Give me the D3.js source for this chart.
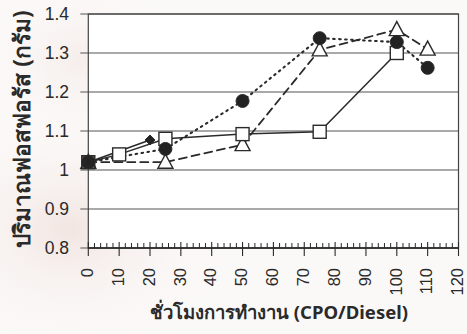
<!DOCTYPE html>
<html>
<head>
<meta charset="utf-8">
<script src="https://cdn.jsdelivr.net/npm/d3@7/dist/d3.min.js"></script>
<style>
  html, body { margin: 0; padding: 0; background: #fbf9f8; }
  svg { display: block; }
</style>
</head>
<body>
<svg id="chart" width="467" height="334"></svg>
<script>
// Operating hours (CPO/Diesel) and phosphorus amount (g) per series
const hoursCircle   = [0, 25, 50, 75, 100, 110];
const valuesCircle  = [1.02, 1.054, 1.177, 1.338, 1.328, 1.262];
const hoursTriangle = [0, 25, 50, 75, 100, 110];
const valuesTriangle= [1.02, 1.02, 1.065, 1.308, 1.36, 1.31];
const hoursSquare   = [0, 10, 25, 50, 75, 100];
const valuesSquare  = [1.02, 1.04, 1.08, 1.092, 1.098, 1.30];
const hoursDiamond  = [0, 20];
const valuesDiamond = [1.02, 1.077];

const xTicks = [0, 10, 20, 30, 40, 50, 60, 70, 80, 90, 100, 110, 120];
const yTicks = [0.8, 0.9, 1.0, 1.1, 1.2, 1.3, 1.4];
const yTickLabels = ["0.8", "0.9", "1", "1.1", "1.2", "1.3", "1.4"];
const xTitle = "ชั่วโมงการทำงาน (CPO/Diesel)";
const yTitle = "ปริมาณฟอสฟอรัส (กรัม)";

const svg = d3.select("#chart");
const ink = "#2a2a2a";
const numFont = "'Liberation Sans', Arial, sans-serif";
const titleFont = "'Noto Sans', 'Liberation Sans', sans-serif";

// Faint tinted wash behind the drawing
const defs = svg.append("defs");
const g1 = defs.append("radialGradient").attr("id", "wash1");
g1.append("stop").attr("offset", "0%").attr("stop-color", "#f1e3df").attr("stop-opacity", 0.9);
g1.append("stop").attr("offset", "100%").attr("stop-color", "#fbf9f8").attr("stop-opacity", 0);
svg.append("ellipse").attr("cx", 70).attr("cy", 230).attr("rx", 170).attr("ry", 130).attr("fill", "url(#wash1)");
svg.append("ellipse").attr("cx", 80).attr("cy", 60).attr("rx", 110).attr("ry", 90).attr("fill", "url(#wash1)").attr("opacity", 0.6);

const x = d3.scaleLinear().domain([0, 120]).range([88.3, 458.5]);
const y = d3.scaleLinear().domain([0.8, 1.4]).range([248, 14]);

// Plot area
svg.append("rect")
  .attr("x", x(0)).attr("y", y(1.4))
  .attr("width", x(120) - x(0)).attr("height", y(0.8) - y(1.4))
  .attr("fill", "#ffffff");

// Horizontal gridlines (extending slightly left of the axis as ticks)
svg.append("g").selectAll("line").data(yTicks).join("line")
  .attr("x1", x(0) - 8).attr("x2", x(120))
  .attr("y1", d => y(d)).attr("y2", d => y(d))
  .attr("stroke", "#555").attr("stroke-width", 1.1);

// Plot border
svg.append("rect")
  .attr("x", x(0)).attr("y", y(1.4))
  .attr("width", x(120) - x(0)).attr("height", y(0.8) - y(1.4))
  .attr("fill", "none").attr("stroke", "#444").attr("stroke-width", 1.2);

// Y tick labels
svg.append("g").selectAll("text").data(yTicks).join("text")
  .attr("x", 69).attr("y", d => y(d))
  .attr("dy", "0.35em")
  .attr("text-anchor", "end")
  .attr("font-family", numFont)
  .attr("font-size", 17.5)
  .attr("fill", ink)
  .text((d, i) => yTickLabels[i]);

// X axis: minor ticks every 2 hours pointing up, major ticks crossing the axis
const minor = d3.range(0, 121, 2).filter(v => v % 10 !== 0);
svg.append("g").selectAll("line").data(minor).join("line")
  .attr("x1", d => x(d)).attr("x2", d => x(d))
  .attr("y1", y(0.8)).attr("y2", y(0.8) - 5)
  .attr("stroke", ink).attr("stroke-width", 1);
svg.append("g").selectAll("line").data(xTicks).join("line")
  .attr("x1", d => x(d)).attr("x2", d => x(d))
  .attr("y1", y(0.8) - 6).attr("y2", y(0.8) + 8)
  .attr("stroke", ink).attr("stroke-width", 1.1);
svg.append("line")
  .attr("x1", x(0)).attr("x2", x(120)).attr("y1", y(0.8)).attr("y2", y(0.8))
  .attr("stroke", ink).attr("stroke-width", 1.3);

// X tick labels, rotated
svg.append("g").selectAll("text").data(xTicks).join("text")
  .attr("transform", d => `translate(${x(d) - 1},268) rotate(-90)`)
  .attr("dy", "0.35em")
  .attr("text-anchor", "end")
  .attr("font-family", numFont)
  .attr("font-size", 16.5)
  .attr("fill", ink)
  .text(d => d);

// Axis titles
svg.append("text")
  .attr("x", 279).attr("y", 319)
  .attr("text-anchor", "middle")
  .attr("font-family", titleFont)
  .attr("font-weight", "bold")
  .attr("font-size", 18.5)
  .attr("fill", ink)
  .text(xTitle);
svg.append("text")
  .attr("transform", "translate(30,129) rotate(-90)")
  .attr("text-anchor", "middle")
  .attr("font-family", titleFont)
  .attr("font-weight", "bold")
  .attr("font-size", 22.5)
  .attr("fill", ink)
  .text(yTitle);

// Series lines
const line = d3.line().x(d => x(d[0])).y(d => y(d[1]));
const zip = (a, b) => a.map((v, i) => [v, b[i]]);

const series = [
  { pts: zip(hoursSquare, valuesSquare), dash: null, w: 1.5 },
  { pts: zip(hoursDiamond, valuesDiamond), dash: null, w: 1.5 },
  { pts: zip(hoursTriangle, valuesTriangle), dash: "8,5", w: 1.8 },
  { pts: zip(hoursCircle, valuesCircle), dash: "1.6,4.4", w: 2.1 }
];
svg.append("g").selectAll("path").data(series).join("path")
  .attr("d", d => line(d.pts))
  .attr("fill", "none")
  .attr("stroke", ink)
  .attr("stroke-width", d => d.w)
  .attr("stroke-linecap", "round")
  .attr("stroke-dasharray", d => d.dash);

// Markers
const mk = svg.append("g");
mk.selectAll(".tri").data(zip(hoursTriangle, valuesTriangle)).join("path")
  .attr("d", "M0,-8 L7.5,6 L-7.5,6 Z")
  .attr("transform", d => `translate(${x(d[0])},${y(d[1])})`)
  .attr("fill", "#fff").attr("stroke", ink).attr("stroke-width", 1.4);
mk.selectAll(".sq").data(zip(hoursSquare, valuesSquare)).join("rect")
  .attr("x", d => x(d[0]) - 6.5).attr("y", d => y(d[1]) - 6.5)
  .attr("width", 13).attr("height", 13)
  .attr("fill", (d, i) => i === 0 ? "#555" : "#fff")
  .attr("stroke", ink).attr("stroke-width", 1.4);
mk.selectAll(".ci").data(zip(hoursCircle, valuesCircle)).join("circle")
  .attr("cx", d => x(d[0])).attr("cy", d => y(d[1])).attr("r", 6.5)
  .attr("fill", "#222").attr("stroke", ink);
mk.selectAll(".di").data(zip(hoursDiamond, valuesDiamond)).join("path")
  .attr("d", "M0,-5 L5,0 L0,5 L-5,0 Z")
  .attr("transform", d => `translate(${x(d[0])},${y(d[1])})`)
  .attr("fill", "#222").attr("stroke", ink);
</script>
</body>
</html>
